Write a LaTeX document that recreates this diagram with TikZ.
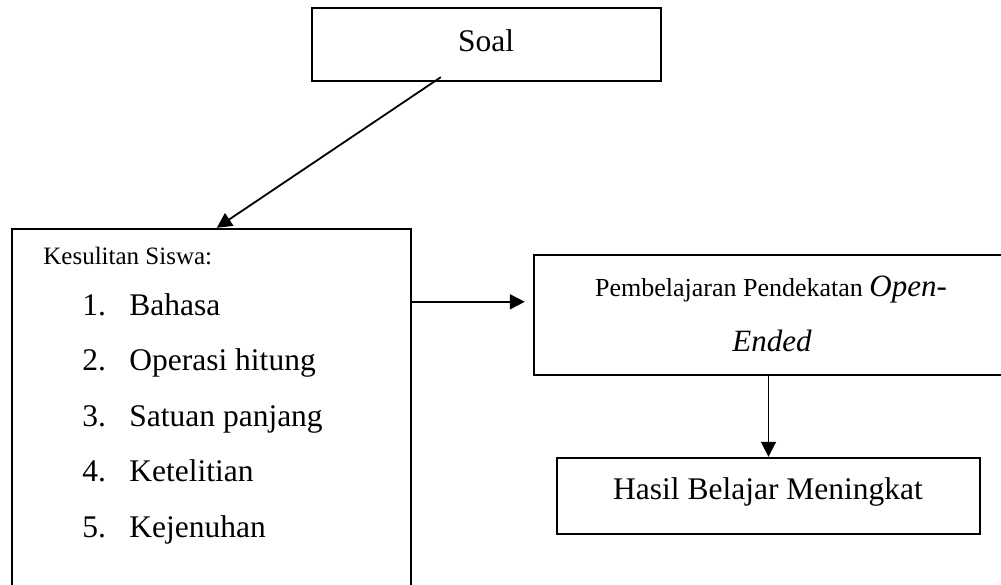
\documentclass[tikz,border=0pt]{standalone}
\usepackage{fontspec}
\setmainfont{Liberation Serif}
\usetikzlibrary{arrows.meta,calc,positioning}

\begin{document}
\begin{tikzpicture}[x=0.5pt,y=-0.5pt,
    box/.style={draw,line width=1.2pt,inner sep=0pt},
    arr/.style={line width=0.9pt,-{Triangle[length=7.5pt,width=7.5pt]}},
    txt/.style={inner sep=0pt,anchor=base,font=\fontsize{15.75}{18}\selectfont}]
  \useasboundingbox (0,0) rectangle (1001,584);
  \clip (0,0) rectangle (1001,584);
  % boxes
  \node[box,minimum width=174.5pt,minimum height=36.5pt] (soal) at (486.5,44.5) {};
  \node[box,minimum width=199.5pt,minimum height=185.5pt] (kesulitan) at (211.5,414.5) {};
  \node[box,minimum width=237pt,minimum height=60pt] (pembelajaran) at (771,315) {};
  \node[box,minimum width=211.5pt,minimum height=38pt] (hasil) at (768.5,496) {};
  % texts
  \node[txt] (soaltxt) at (486,51) {Soal};
  \node[txt,anchor=base west,font=\fontsize{12.5}{15}\selectfont] (kestxt) at (43,264) {Kesulitan Siswa:};
  \foreach \i/\lbl in {1/Bahasa,2/Operasi hitung,3/Satuan panjang,4/Ketelitian,5/Kejenuhan}{
    \node[txt,anchor=base west] (no\i) at (82,{315+(\i-1)*55.5}) {\i.};
    \node[txt,anchor=base west] (item\i) at (129,{315+(\i-1)*55.5}) {\lbl};
  }
  \node[txt,font=\fontsize{13}{15}\selectfont] (pemtxt) at (771,296)
    {Pembelajaran Pendekatan {\fontsize{15.5}{18}\selectfont\itshape Open-}};
  \node[txt,font=\fontsize{15.5}{18}\selectfont\itshape] (endtxt) at (772,351) {Ended};
  \node[txt] (hasiltxt) at (768,499) {Hasil Belajar Meningkat};
  % connectors
  \coordinate (soalout) at ($(soal.south west)+(130,-5)$);
  \coordinate (kesin) at ($(kesulitan.north west)+(206,0)$);
  \coordinate (kesout) at ($(kesulitan.north east)+(0,74)$);
  \draw[arr] (soalout) -- (kesin);
  \draw[arr,shorten >=4pt] (kesout) -- (kesout -| pembelajaran.west);
  \draw[arr] (hasil.north |- pembelajaran.south) -- (hasil.north);
\end{tikzpicture}
\end{document}
